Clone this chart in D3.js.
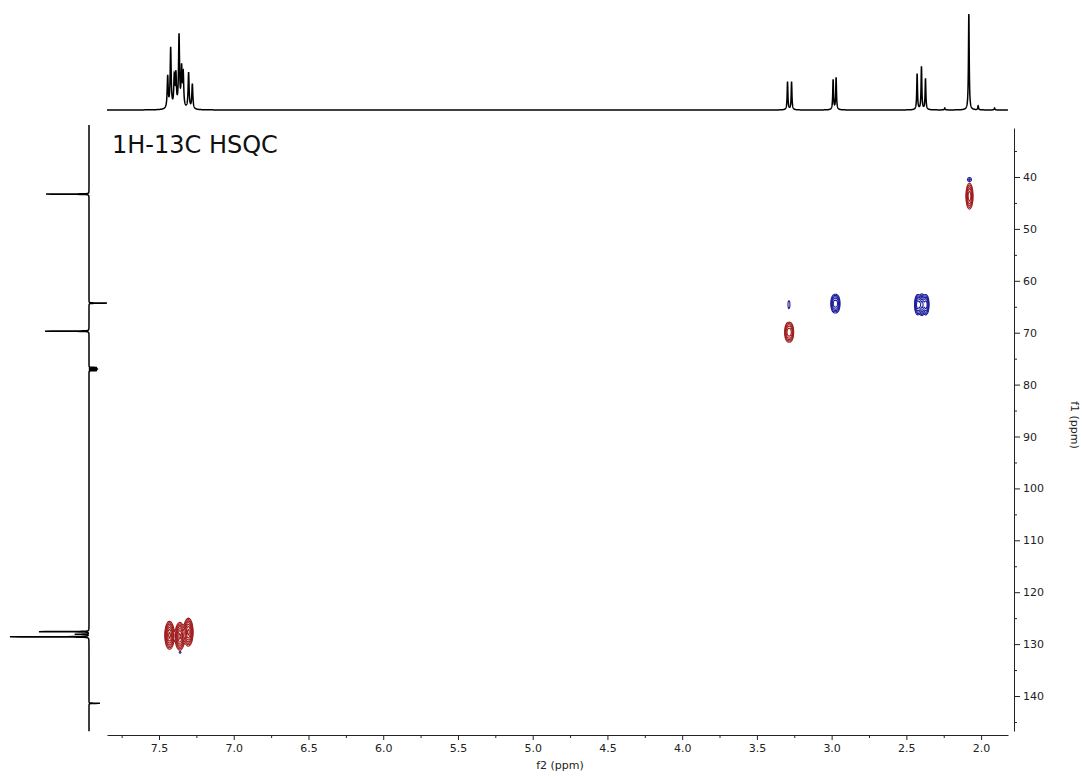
<!DOCTYPE html>
<html><head><meta charset="utf-8">
<script src="https://cdn.jsdelivr.net/npm/d3@7"></script>
<style>body{margin:0;background:#fff} svg text{font-family:"DejaVu Sans",Verdana,sans-serif}</style>
</head><body><svg id="c" width="1082" height="777"></svg>
<script>
// ---------- data ----------
const f2Ticks = [7.5, 7.0, 6.5, 6.0, 5.5, 5.0, 4.5, 4.0, 3.5, 3.0, 2.5, 2.0];
const f2Minor = [7.75, 7.25, 6.75, 6.25, 5.75, 5.25, 4.75, 4.25, 3.75, 3.25, 2.75, 2.25];
const f1Ticks = [40, 50, 60, 70, 80, 90, 100, 110, 120, 130, 140];
const f1Minor = [35, 45, 55, 65, 75, 85, 95, 105, 115, 125, 135, 145];

// 1H projection (top): peak positions (ppm), intensities, half-widths (ppm)
const hPeakPpm = [7.442, 7.422, 7.398, 7.387, 7.366, 7.349, 7.338, 7.302, 7.277,
                  3.295, 3.268, 2.990, 2.970, 2.428, 2.399, 2.372, 2.243, 2.082, 2.020, 1.910];
const hPeakInt = [32, 60, 30, 32, 72, 38, 33, 36, 25,
                  28, 28, 30, 32, 36, 43, 31, 2, 96, 4, 2];
const hPeakW   = [0.004, 0.004, 0.004, 0.004, 0.004, 0.004, 0.004, 0.004, 0.004,
                  0.003, 0.003, 0.003, 0.003, 0.003, 0.003, 0.003, 0.003, 0.003, 0.003, 0.003];

// 13C projection (left): peak positions (ppm) and intensities (negative = other side)
const cPeakPpm = [43.3, 64.3, 69.7, 76.7, 77.0, 77.3, 127.6, 128.1, 128.6, 141.4];
const cPeakInt = [43, -18, 44, -8, -9, -8, 50, 14, 79, -11];

// HSQC cross peaks: f2, f1, amplitude, phase (1 = red / positive, -1 = blue / negative), widths (ppm)
const xpF2   = [7.433, 7.364, 7.307, 7.362, 3.297, 3.278, 3.289, 2.988, 2.968, 2.428, 2.400, 2.372, 2.081, 2.081];
const xpF1   = [128.2, 128.4, 127.6, 131.5, 69.8, 69.8, 64.5, 64.3, 64.3, 64.5, 64.5, 64.5, 43.6, 40.4];
const xpAmp  = [1.0, 1.0, 1.0, 0.1, 0.45, 0.45, 0.12, 0.45, 0.45, 0.6, 0.8, 0.6, 0.6, 0.15];
const xpSign = [1, 1, 1, -1, 1, 1, -1, -1, -1, -1, -1, -1, 1, -1];
const xpW2   = [0.014, 0.014, 0.014, 0.010, 0.011, 0.011, 0.0075, 0.011, 0.011, 0.010, 0.010, 0.010, 0.0117, 0.012];
const xpW1   = [1.2, 1.2, 1.2, 0.29, 0.95, 0.95, 0.9, 0.9, 0.9, 0.97, 0.97, 0.97, 1.25, 0.35];
const levels = [0.08, 0.13, 0.2, 0.3, 0.45, 0.65, 0.9];

// ---------- scales ----------
const X0 = 107, X1 = 1008, Y0 = 128, Y1 = 731, AXY = 735;
const xS = d3.scaleLinear().domain([7.848, 1.82]).range([X0, X1]);
const yS = d3.scaleLinear().domain([30.56, 146.74]).range([Y0, Y1]);
const hS = d3.scaleLinear().domain([0, 100]).range([110, 10]);
const cS = d3.scaleLinear().domain([0, 100]).range([89, -11]);

const svg = d3.select("#c");

// ---------- top 1H projection ----------
let hx = d3.range(7.848, 1.82, -0.0005).concat(hPeakPpm).sort((a, b) => b - a);
const hData = hx.map(p => {
  let s = 0;
  for (let i = 0; i < hPeakPpm.length; i++) { const d = p - hPeakPpm[i], w = hPeakW[i]; s += hPeakInt[i] * w * w / (d * d + w * w); }
  return [p, s];
});
svg.append("path").datum(hData)
  .attr("fill", "none").attr("stroke", "#000").attr("stroke-width", 1.5)
  .attr("d", d3.line().x(d => xS(d[0])).y(d => hS(d[1])));

// ---------- left 13C projection ----------
const cw = 0.025;
let cy = d3.range(30.0, 146.8, 0.01).concat(cPeakPpm).sort((a, b) => a - b);
const cData = cy.map(p => {
  let s = 0;
  for (let i = 0; i < cPeakPpm.length; i++) { const d = p - cPeakPpm[i]; s += cPeakInt[i] * cw * cw / (d * d + cw * cw); }
  return [p, s];
});
svg.append("path").datum(cData)
  .attr("fill", "none").attr("stroke", "#000").attr("stroke-width", 1.5)
  .attr("d", d3.line().x(d => cS(d[1])).y(d => yS(d[0])));

// ---------- contours ----------
const nx = X1 - X0 + 1, ny = AXY - Y0 + 1;
function grid(sign) {
  const v = new Float64Array(nx * ny);
  for (let k = 0; k < xpF2.length; k++) {
    if (xpSign[k] !== sign) continue;
    const cx = xS(xpF2[k]) - X0, cyy = yS(xpF1[k]) - Y0;
    const sx = Math.abs(xS(xpF2[k] + xpW2[k]) - xS(xpF2[k]));
    const sy = Math.abs(yS(xpF1[k] + xpW1[k]) - yS(xpF1[k]));
    const i0 = Math.max(0, Math.floor(cx - 5 * sx)), i1 = Math.min(nx - 1, Math.ceil(cx + 5 * sx));
    const j0 = Math.max(0, Math.floor(cyy - 5 * sy)), j1 = Math.min(ny - 1, Math.ceil(cyy + 5 * sy));
    for (let j = j0; j <= j1; j++) for (let i = i0; i <= i1; i++) {
      const dx = (i - cx) / sx, dy = (j - cyy) / sy;
      v[j * nx + i] += xpAmp[k] * Math.exp(-0.5 * (dx * dx + dy * dy));
    }
  }
  return v;
}
const gC = svg.append("g").attr("transform", `translate(${X0},${Y0})`);
[[1, "#a01d1d"], [-1, "#1e1e9c"]].forEach(([sg, col]) => {
  const cs = d3.contours().size([nx, ny]).thresholds(levels)(grid(sg));
  gC.selectAll(null).data(cs).join("path")
    .attr("d", d3.geoPath())
    .attr("fill", "none").attr("stroke", col).attr("stroke-width", 1.1);
});

// ---------- axes ----------
function styleAxis(g) {
  g.attr("font-family", null).attr("font-size", null);
  g.selectAll("text").attr("font-size", 11).attr("fill", "#222");
  g.selectAll("line,path").attr("stroke", "#222");
}
svg.append("g").attr("transform", `translate(0,${AXY})`)
  .call(d3.axisBottom(xS).tickValues(f2Ticks).tickFormat(d3.format(".1f")).tickSize(5).tickPadding(4).tickSizeOuter(0))
  .call(styleAxis);
svg.append("g").attr("transform", `translate(0,${AXY})`)
  .call(d3.axisBottom(xS).tickValues(f2Minor).tickFormat("").tickSize(3).tickSizeOuter(0))
  .call(g => g.select(".domain").remove()).call(styleAxis);

svg.append("g").attr("transform", "translate(1014,0)")
  .call(d3.axisRight(yS).tickValues(f1Ticks).tickFormat(d3.format("d")).tickSize(6).tickPadding(3).tickSizeOuter(0))
  .call(styleAxis);
svg.append("g").attr("transform", "translate(1014,0)")
  .call(d3.axisRight(yS).tickValues(f1Minor).tickFormat("").tickSize(3).tickSizeOuter(0))
  .call(g => g.select(".domain").remove()).call(styleAxis);

svg.append("text").attr("x", 560).attr("y", 769).attr("text-anchor", "middle")
  .attr("font-size", 11).attr("fill", "#222").text("f2 (ppm)");
svg.append("text").attr("transform", "translate(1071,425) rotate(90)").attr("text-anchor", "middle")
  .attr("font-size", 11).attr("fill", "#222").text("f1 (ppm)");

svg.append("text").attr("x", 112).attr("y", 153).attr("font-size", 24).attr("fill", "#111").text("1H-13C HSQC");
</script></body></html>
